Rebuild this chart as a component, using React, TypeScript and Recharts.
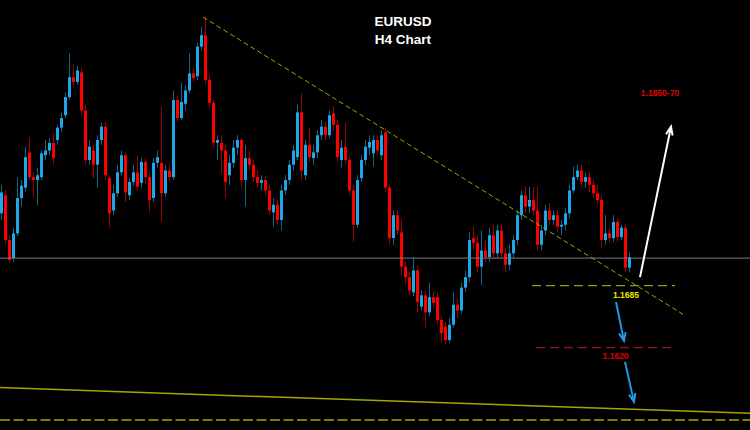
import React from 'react';
import { ComposedChart, Bar, XAxis, YAxis, ReferenceLine, ReferenceDot } from 'recharts';

const opens = [
  1.1761, 1.1780, 1.1733, 1.1714, 1.1740, 1.1777, 1.1788, 1.1825, 1.1799, 1.1796,
  1.1799, 1.1822, 1.1827, 1.1835, 1.1838, 1.1851, 1.1864, 1.1883, 1.1904, 1.1899,
  1.1909, 1.1869, 1.1817, 1.1827, 1.1812, 1.1838, 1.1852, 1.1798, 1.1764, 1.1782,
  1.1804, 1.1822, 1.1780, 1.1794, 1.1804, 1.1793, 1.1815, 1.1799, 1.1777, 1.1814,
  1.1814, 1.1782, 1.1806, 1.1799, 1.1880, 1.1861, 1.1876, 1.1890, 1.1908, 1.1905,
  1.1936, 1.1948, 1.1901, 1.1877, 1.1835, 1.1835, 1.1827, 1.1801, 1.1814, 1.1830,
  1.1838, 1.1796, 1.1819, 1.1812, 1.1799, 1.1793, 1.1796, 1.1785, 1.1762, 1.1770,
  1.1754, 1.1785, 1.1796, 1.1812, 1.1820, 1.1867, 1.1801, 1.1833, 1.1819, 1.1825,
  1.1843, 1.1852, 1.1843, 1.1866, 1.1854, 1.1817, 1.1831, 1.1817, 1.1785, 1.1749,
  1.1798, 1.1817, 1.1830, 1.1824, 1.1838, 1.1822, 1.1846, 1.1788, 1.1735, 1.1759,
  1.1741, 1.1705, 1.1694, 1.1678, 1.1701, 1.1663, 1.1675, 1.1657, 1.1673, 1.1673,
  1.1649, 1.1642, 1.1628, 1.1644, 1.1665, 1.1659, 1.1683, 1.1694, 1.1735, 1.1730,
  1.1705, 1.1722, 1.1715, 1.1738, 1.1719, 1.1743, 1.1719, 1.1707, 1.1719, 1.1733,
  1.1759, 1.1780, 1.1768, 1.1775, 1.1764, 1.1728, 1.1743, 1.1764, 1.1754, 1.1759,
  1.1747, 1.1749, 1.1761, 1.1785, 1.1799, 1.1806, 1.1794, 1.1799, 1.1791, 1.1782,
  1.1775, 1.1733, 1.1740, 1.1735, 1.1752, 1.1736, 1.1746, 1.1704,
];

const closes = [
  1.1783, 1.1733, 1.1712, 1.1740, 1.1777, 1.1790, 1.1820, 1.1799, 1.1796, 1.1801,
  1.1824, 1.1827, 1.1835, 1.1819, 1.1851, 1.1861, 1.1883, 1.1904, 1.1899, 1.1911,
  1.1869, 1.1817, 1.1831, 1.1812, 1.1838, 1.1852, 1.1801, 1.1761, 1.1782, 1.1804,
  1.1822, 1.1783, 1.1794, 1.1804, 1.1789, 1.1815, 1.1799, 1.1775, 1.1814, 1.1820,
  1.1782, 1.1806, 1.1799, 1.1880, 1.1861, 1.1878, 1.1890, 1.1908, 1.1903, 1.1936,
  1.1948, 1.1901, 1.1877, 1.1835, 1.1838, 1.1827, 1.1794, 1.1814, 1.1830, 1.1838,
  1.1796, 1.1819, 1.1812, 1.1799, 1.1793, 1.1796, 1.1785, 1.1764, 1.1770, 1.1754,
  1.1785, 1.1796, 1.1812, 1.1827, 1.1867, 1.1806, 1.1833, 1.1820, 1.1825, 1.1843,
  1.1852, 1.1843, 1.1864, 1.1854, 1.1820, 1.1830, 1.1817, 1.1785, 1.1749, 1.1796,
  1.1817, 1.1831, 1.1836, 1.1838, 1.1827, 1.1843, 1.1788, 1.1735, 1.1759, 1.1743,
  1.1705, 1.1694, 1.1680, 1.1701, 1.1668, 1.1675, 1.1657, 1.1673, 1.1667, 1.1649,
  1.1635, 1.1628, 1.1644, 1.1665, 1.1659, 1.1683, 1.1694, 1.1733, 1.1730, 1.1705,
  1.1722, 1.1715, 1.1738, 1.1719, 1.1743, 1.1719, 1.1707, 1.1719, 1.1733, 1.1759,
  1.1780, 1.1768, 1.1775, 1.1764, 1.1728, 1.1743, 1.1764, 1.1754, 1.1759, 1.1747,
  1.1749, 1.1761, 1.1785, 1.1799, 1.1806, 1.1794, 1.1799, 1.1791, 1.1782, 1.1775,
  1.1733, 1.1740, 1.1735, 1.1752, 1.1736, 1.1746, 1.1704, 1.1715,
];

const highs = [
  1.1791, 1.1785, 1.1738, 1.1746, 1.1799, 1.1796, 1.1831, 1.1841, 1.1804, 1.1809,
  1.1827, 1.1838, 1.1840, 1.1845, 1.1854, 1.1867, 1.1888, 1.1929, 1.1917, 1.1916,
  1.1914, 1.1875, 1.1838, 1.1833, 1.1843, 1.1856, 1.1857, 1.1801, 1.1791, 1.1812,
  1.1827, 1.1825, 1.1798, 1.1812, 1.1822, 1.1819, 1.1819, 1.1804, 1.1819, 1.1827,
  1.1873, 1.1812, 1.1812, 1.1890, 1.1885, 1.1898, 1.1896, 1.1929, 1.1914, 1.1940,
  1.1957, 1.1969, 1.1906, 1.1880, 1.1843, 1.1843, 1.1833, 1.1822, 1.1838, 1.1843,
  1.1840, 1.1833, 1.1827, 1.1817, 1.1806, 1.1801, 1.1800, 1.1791, 1.1777, 1.1775,
  1.1791, 1.1801, 1.1817, 1.1833, 1.1875, 1.1887, 1.1838, 1.1851, 1.1833, 1.1848,
  1.1859, 1.1857, 1.1869, 1.1873, 1.1859, 1.1838, 1.1856, 1.1822, 1.1791, 1.1801,
  1.1822, 1.1838, 1.1843, 1.1843, 1.1843, 1.1848, 1.1851, 1.1791, 1.1764, 1.1764,
  1.1754, 1.1710, 1.1699, 1.1715, 1.1706, 1.1680, 1.1680, 1.1688, 1.1678, 1.1678,
  1.1653, 1.1647, 1.1651, 1.1678, 1.1672, 1.1688, 1.1701, 1.1741, 1.1747, 1.1738,
  1.1743, 1.1733, 1.1746, 1.1749, 1.1749, 1.1749, 1.1725, 1.1728, 1.1738, 1.1764,
  1.1785, 1.1789, 1.1789, 1.1789, 1.1789, 1.1749, 1.1770, 1.1772, 1.1764, 1.1764,
  1.1754, 1.1767, 1.1791, 1.1810, 1.1812, 1.1812, 1.1804, 1.1804, 1.1796, 1.1791,
  1.1780, 1.1759, 1.1746, 1.1759, 1.1756, 1.1749, 1.1749, 1.1720,
];

const lows = [
  1.1754, 1.1728, 1.1709, 1.1710, 1.1737, 1.1768, 1.1783, 1.1796, 1.1778, 1.1770,
  1.1796, 1.1817, 1.1822, 1.1812, 1.1833, 1.1846, 1.1861, 1.1880, 1.1893, 1.1896,
  1.1864, 1.1812, 1.1812, 1.1798, 1.1788, 1.1833, 1.1796, 1.1746, 1.1759, 1.1778,
  1.1801, 1.1773, 1.1775, 1.1790, 1.1785, 1.1788, 1.1791, 1.1762, 1.1773, 1.1809,
  1.1752, 1.1778, 1.1794, 1.1796, 1.1857, 1.1859, 1.1869, 1.1887, 1.1899, 1.1901,
  1.1932, 1.1896, 1.1872, 1.1830, 1.1817, 1.1803, 1.1777, 1.1791, 1.1809, 1.1822,
  1.1788, 1.1768, 1.1806, 1.1794, 1.1788, 1.1785, 1.1780, 1.1759, 1.1747, 1.1749,
  1.1743, 1.1780, 1.1791, 1.1806, 1.1817, 1.1796, 1.1796, 1.1815, 1.1812, 1.1819,
  1.1838, 1.1838, 1.1840, 1.1848, 1.1815, 1.1809, 1.1812, 1.1780, 1.1731, 1.1746,
  1.1794, 1.1812, 1.1822, 1.1810, 1.1822, 1.1817, 1.1783, 1.1728, 1.1728, 1.1738,
  1.1696, 1.1686, 1.1675, 1.1674, 1.1657, 1.1659, 1.1641, 1.1653, 1.1662, 1.1644,
  1.1626, 1.1623, 1.1625, 1.1641, 1.1651, 1.1656, 1.1678, 1.1689, 1.1722, 1.1699,
  1.1686, 1.1710, 1.1710, 1.1714, 1.1714, 1.1714, 1.1699, 1.1701, 1.1714, 1.1728,
  1.1754, 1.1762, 1.1762, 1.1759, 1.1722, 1.1722, 1.1738, 1.1749, 1.1749, 1.1741,
  1.1738, 1.1743, 1.1756, 1.1782, 1.1796, 1.1788, 1.1788, 1.1783, 1.1777, 1.1770,
  1.1725, 1.1728, 1.1730, 1.1731, 1.1731, 1.1733, 1.1699, 1.1699,
];

// Annotation lines (bar index, price)
const trendLine = [{ x: 50.25, y: 1.1967 }, { x: 170.25, y: 1.1655 }];
const pivotLevel = 1.1714;
const supportLevel = 1.1685;
const supportSpan = [132.5, 168.25];
const targetLevel = 1.1620;
const targetSpan = [133.5, 167.75];
const bottomTrend = [{ x: -0.5, y: 1.1578 }, { x: 187, y: 1.1551 }];
const bottomLevel = 1.1544;
const upArrow = [{ x: 159.5, y: 1.1694 }, { x: 167.25, y: 1.1852 }];
const downArrow1 = [{ x: 153.5, y: 1.1668 }, { x: 155.5, y: 1.1627 }];
const downArrow2 = [{ x: 155.75, y: 1.1605 }, { x: 158, y: 1.1563 }];
const upTargetLabel = { x: 164.5, y: 1.1887, text: '1.1850-70' };
const supportLabel = { x: 156, y: supportLevel, text: '1.1685' };
const targetLabel = { x: 153.4, y: targetLevel, text: '1.1620' };

const data = opens.map((o, i) => ({ i, open: o, high: highs[i], low: lows[i], close: closes[i] }));

const UP = '#1ea8ea';
const DOWN = '#ff0000';

const Candle = (props: any) => {
  const { x, y, width, height, payload } = props;
  if (!payload || x == null || y == null) return null;
  const top = Math.min(y, y + height);
  const bot = Math.max(y, y + height);
  const span = bot - top;
  const range = payload.high - payload.low || 1e-9;
  const py = (p: number) => top + ((payload.high - p) / range) * span;
  const cx = x + width / 2;
  const up = payload.close >= payload.open;
  const color = up ? UP : DOWN;
  const bTop = py(Math.max(payload.open, payload.close));
  const bBot = py(Math.min(payload.open, payload.close));
  return (
    <g>
      <line x1={cx} x2={cx} y1={top} y2={bot} stroke={color} strokeOpacity={0.6} strokeWidth={1} />
      <rect x={cx - 1.5} y={bTop} width={3} height={Math.max(1, bBot - bTop)} fill={color} />
    </g>
  );
};

const arrowShape = (color: string, w: number) => (p: any) => {
  const { x1, y1, x2, y2 } = p;
  const ang = Math.atan2(y2 - y1, x2 - x1);
  const L = 9;
  const A = 0.38;
  const ax = x2 - L * Math.cos(ang - A);
  const ay = y2 - L * Math.sin(ang - A);
  const bx = x2 - L * Math.cos(ang + A);
  const by = y2 - L * Math.sin(ang + A);
  return (
    <g>
      <line x1={x1} y1={y1} x2={x2} y2={y2} stroke={color} strokeWidth={w} />
      <polyline points={`${ax},${ay} ${x2},${y2} ${bx},${by}`} fill="none" stroke={color} strokeWidth={w} />
    </g>
  );
};

const textShape = (text: string, color: string, dy: number) => (p: any) => (
  <text
    x={p.cx}
    y={p.cy + dy}
    textAnchor="middle"
    fill={color}
    fontFamily="Arial, 'Liberation Sans', sans-serif"
    fontWeight="bold"
    fontSize={8.5}
  >
    {text}
  </text>
);

export default function App() {
  return (
    <div style={{ position: 'absolute', left: 0, top: 0, width: 750, height: 430, background: '#000', overflow: 'hidden' }}>
      <ComposedChart width={750} height={430} data={data} margin={{ top: 0, right: 0, bottom: 0, left: 0 }}>
        <XAxis type="number" dataKey="i" domain={[-0.5, 187]} hide allowDataOverflow />
        <YAxis type="number" domain={[1.15335, 1.1985]} hide allowDataOverflow />
        <ReferenceLine y={pivotLevel} stroke="#7a7a7a" strokeWidth={1} />
        <ReferenceLine segment={bottomTrend} stroke="#a6a600" strokeWidth={1.5} />
        <ReferenceLine y={bottomLevel} stroke="#a6a600" strokeWidth={1.5} strokeDasharray="10 3.5" />
        <Bar dataKey={(d: any) => [d.low, d.high]} barSize={3} isAnimationActive={false} shape={(p: any) => <Candle {...p} />} />
        <ReferenceLine segment={trendLine} stroke="#a3a300" strokeWidth={1} strokeDasharray="5 3" />
        <ReferenceLine
          segment={[{ x: supportSpan[0], y: supportLevel }, { x: supportSpan[1], y: supportLevel }]}
          stroke="#9a9a1a"
          strokeWidth={1.2}
          strokeDasharray="9 5"
        />
        <ReferenceLine
          segment={[{ x: targetSpan[0], y: targetLevel }, { x: targetSpan[1], y: targetLevel }]}
          stroke="#a01010"
          strokeWidth={1.2}
          strokeDasharray="9 5"
        />
        <ReferenceLine segment={upArrow} shape={arrowShape('#ffffff', 2)} />
        <ReferenceLine segment={downArrow1} shape={arrowShape('#1e9ae6', 2)} />
        <ReferenceLine segment={downArrow2} shape={arrowShape('#1e9ae6', 2)} />
        <ReferenceDot x={upTargetLabel.x} y={upTargetLabel.y} r={0} shape={textShape(upTargetLabel.text, '#e00000', 3)} />
        <ReferenceDot x={supportLabel.x} y={supportLabel.y} r={0} shape={textShape(supportLabel.text, '#e8e800', 12)} />
        <ReferenceDot x={targetLabel.x} y={targetLabel.y} r={0} shape={textShape(targetLabel.text, '#e00000', 11)} />
      </ComposedChart>
      <div
        style={{
          position: 'absolute',
          left: 343,
          top: 13,
          width: 120,
          textAlign: 'center',
          color: '#fff',
          fontFamily: "Arial, 'Liberation Sans', sans-serif",
          fontWeight: 'bold',
          fontSize: 13.5,
          lineHeight: '18px',
        }}
      >
        <div>EURUSD</div>
        <div>H4 Chart</div>
      </div>
    </div>
  );
}
